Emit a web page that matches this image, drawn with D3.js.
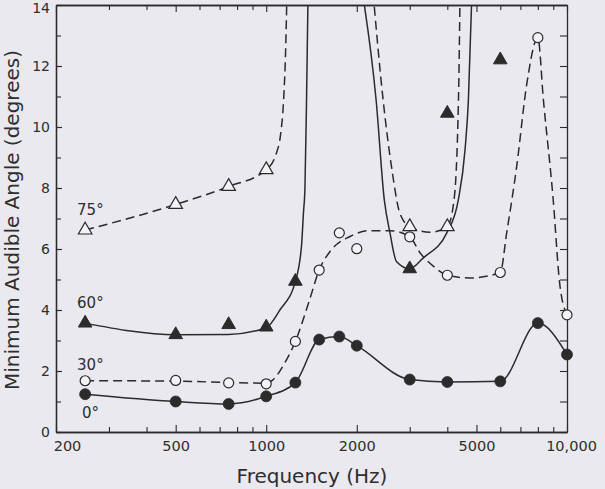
<!DOCTYPE html>
<html>
<head>
<meta charset="utf-8">
<script src="https://cdn.jsdelivr.net/npm/d3@7"></script>
<style>
  html, body { margin: 0; padding: 0; background: #e9e9ef; }
  svg { display: block; }
  text { font-family: "DejaVu Sans", "Liberation Sans", Arial, sans-serif; fill: #2e2e2e; }
</style>
</head>
<body>
<svg id="chart" width="605" height="489"></svg>
<script>
// ---------- data ----------
const freqs = [250, 500, 750, 1000, 1250, 1500, 1750, 2000, 3000, 4000, 6000, 8000, 10000];
const angle0  = [1.24, 1.0, 0.92, 1.17, 1.62, 3.03, 3.13, 2.83, 1.72, 1.64, 1.66, 3.57, 2.54];
const angle30 = [1.68, 1.69, 1.61, 1.58, 2.97, 5.31, 6.53, 6.01, 6.40, 5.14, 5.23, 12.93, 3.84];

const freqs60 = [250, 500, 750, 1000, 1250, 3000, 4000, 6000];
const angle60 = [3.57, 3.19, 3.52, 3.44, 4.94, 5.35, 10.45, 12.2];

const freqs75 = [250, 500, 750, 1000, 3000, 4000];
const angle75 = [6.62, 7.46, 8.05, 8.6, 6.73, 6.73];

// hand-fitted curves as drawn in the figure: [frequency, angle]
const curve30 = [[250,1.68],[500,1.67],[750,1.62],[1000,1.6],[1050,1.7],[1150,2.25],[1250,2.97],
  [1390,4.3],[1500,5.31],[1630,5.92],[1900,6.41],[2200,6.6],[2580,6.6],[3000,6.4],[3250,5.87],
  [3600,5.43],[4000,5.14],[4750,5.05],[6000,5.23],[6300,6.52],[6800,8.69],[7350,11.41],
  [8000,12.93],[8350,10.87],[9000,7.6],[9450,4.89],[10000,3.84]];
const curve60a = [[250,3.57],[500,3.19],[750,3.2],[1000,3.42],[1110,4.0],[1250,4.94],
  [1310,6.1],[1330,7.2],[1345,8.0],[1362,11.0],[1378,14.5]];
const curve60b = [[2090,14.4],[2320,10.87],[2470,7.6],[2580,6.52],[2710,5.59],[3000,5.35],
  [3330,5.71],[3980,6.52],[4350,7.6],[4580,9.24],[4700,10.87],[4830,14.4]];
const curve75a = [[250,6.62],[500,7.46],[750,8.05],[1000,8.6],[1080,9.13],[1117,9.78],
  [1142,10.87],[1160,12.5],[1172,14.4]];
const curve75b = [[2266,14.4],[2448,10.87],[2610,8.69],[2782,7.17],[3000,6.73],[3500,6.55],
  [4000,6.73],[4210,7.6],[4356,10.87],[4410,14.4]];

const xMajorTicks = [200, 500, 1000, 2000, 5000, 10000];
const xMajorLabels = ["200", "500", "1000", "2000", "5000", "10,000"];
const xMinorTicks = [300, 400, 600, 700, 800, 900, 3000, 4000, 6000, 7000, 8000, 9000];
const yLabelTicks = [0, 2, 4, 6, 8, 10, 12, 14];
const yAllTicks = d3.range(0, 15);

const seriesLabels = [
  {text: "75°", f: 235, a: 7.11},
  {text: "60°", f: 235, a: 4.07},
  {text: "30°", f: 235, a: 2.03},
  {text: "0°",  f: 244, a: 0.46}
];

// ---------- layout ----------
const W = 605, H = 489;
const L = 56, R = 567, T = 5, B = 432;
const ink = "#2b2b2b";
const paper = "#e9e9ef";
const FONT = '"DejaVu Sans", "Liberation Sans", Arial, sans-serif';

const svg = d3.select("#chart");
svg.append("rect").attr("width", W).attr("height", H).attr("fill", paper);

const x = d3.scaleLog().domain([200, 10000]).range([L, R]);
const y = d3.scaleLinear().domain([0, 14]).range([B, T]);

svg.append("defs").append("clipPath").attr("id", "plotclip")
  .append("rect").attr("x", L).attr("y", T).attr("width", R - L).attr("height", B - T);

// ---------- axes ----------
function styleAxis(g) {
  g.selectAll(".domain").attr("stroke", ink).attr("stroke-width", 1.3);
  g.selectAll(".tick line").attr("stroke", ink).attr("stroke-width", 1.1);
  g.selectAll(".tick text").attr("fill", "#2e2e2e").style("font-family", FONT);
}

// bottom major
const gxb = svg.append("g").attr("transform", `translate(0,${B})`)
  .call(d3.axisBottom(x).tickValues(xMajorTicks)
    .tickFormat((d, i) => xMajorLabels[i]).tickSizeInner(-7).tickSizeOuter(0).tickPadding(9))
  .call(styleAxis);
gxb.selectAll(".tick text").attr("font-size", 14.5)
  .attr("dx", d => d === 200 ? 11 : (d === 10000 ? 4 : 0));
// bottom minor
svg.append("g").attr("transform", `translate(0,${B})`)
  .call(d3.axisBottom(x).tickValues(xMinorTicks).tickFormat("").tickSizeInner(-5).tickSizeOuter(0))
  .call(styleAxis);
// top
svg.append("g").attr("transform", `translate(0,${T})`)
  .call(d3.axisTop(x).tickValues(xMajorTicks).tickFormat("").tickSizeInner(-7).tickSizeOuter(0))
  .call(styleAxis);
svg.append("g").attr("transform", `translate(0,${T})`)
  .call(d3.axisTop(x).tickValues(xMinorTicks).tickFormat("").tickSizeInner(-5).tickSizeOuter(0))
  .call(styleAxis);
// left
const gyl = svg.append("g").attr("transform", `translate(${L},0)`)
  .call(d3.axisLeft(y).tickValues(yLabelTicks).tickFormat(d3.format("d"))
    .tickSizeInner(-6).tickSizeOuter(0).tickPadding(6))
  .call(styleAxis);
gyl.selectAll(".tick text").attr("font-size", 14)
  .attr("dy", d => d === 14 ? "0.55em" : "0.32em");
svg.append("g").attr("transform", `translate(${L},0)`)
  .call(d3.axisLeft(y).tickValues(yAllTicks).tickFormat("").tickSizeInner(-5).tickSizeOuter(0))
  .call(styleAxis);
// right
svg.append("g").attr("transform", `translate(${R},0)`)
  .call(d3.axisRight(y).tickValues(yAllTicks).tickFormat("").tickSizeInner(-7).tickSizeOuter(0))
  .call(styleAxis);

// ---------- curves ----------
const line = d3.line().x(d => x(d[0])).y(d => y(d[1])).curve(d3.curveMonotoneX);
const plot = svg.append("g").attr("clip-path", "url(#plotclip)");

plot.append("path").attr("d", line(d3.zip(freqs, angle0)))
  .attr("fill", "none").attr("stroke", ink).attr("stroke-width", 1.5);
plot.append("path").attr("d", line(curve30))
  .attr("fill", "none").attr("stroke", ink).attr("stroke-width", 1.5).attr("stroke-dasharray", "9,5");
[curve60a, curve60b].forEach(c => plot.append("path").attr("d", line(c))
  .attr("fill", "none").attr("stroke", ink).attr("stroke-width", 1.5));
[curve75a, curve75b].forEach(c => plot.append("path").attr("d", line(c))
  .attr("fill", "none").attr("stroke", ink).attr("stroke-width", 1.5).attr("stroke-dasharray", "9,5"));

// ---------- markers ----------
const tri = d3.symbol().type(d3.symbolTriangle).size(80);

svg.append("g").selectAll("path").data(d3.zip(freqs75, angle75)).join("path")
  .attr("d", tri).attr("transform", d => `translate(${x(d[0])},${y(d[1])})`)
  .attr("fill", "#f3f3f7").attr("stroke", ink).attr("stroke-width", 1.2);

svg.append("g").selectAll("path").data(d3.zip(freqs60, angle60)).join("path")
  .attr("d", tri).attr("transform", d => `translate(${x(d[0])},${y(d[1])})`)
  .attr("fill", ink).attr("stroke", ink).attr("stroke-width", 1);

svg.append("g").selectAll("circle").data(d3.zip(freqs, angle30)).join("circle")
  .attr("cx", d => x(d[0])).attr("cy", d => y(d[1])).attr("r", 5)
  .attr("fill", "#f3f3f7").attr("stroke", ink).attr("stroke-width", 1.2);

svg.append("g").selectAll("circle").data(d3.zip(freqs, angle0)).join("circle")
  .attr("cx", d => x(d[0])).attr("cy", d => y(d[1])).attr("r", 5.5)
  .attr("fill", ink).attr("stroke", ink).attr("stroke-width", 0.8);

// ---------- labels ----------
svg.append("g").selectAll("text").data(seriesLabels).join("text")
  .attr("x", d => x(d.f)).attr("y", d => y(d.a))
  .attr("font-size", 15).text(d => d.text);

svg.append("text").attr("x", 312).attr("y", 483).attr("text-anchor", "middle")
  .attr("font-size", 20).text("Frequency (Hz)");

svg.append("text").attr("transform", "translate(19,220) rotate(-90)")
  .attr("text-anchor", "middle").attr("font-size", 20)
  .text("Minimum Audible Angle (degrees)");
</script>
</body>
</html>
